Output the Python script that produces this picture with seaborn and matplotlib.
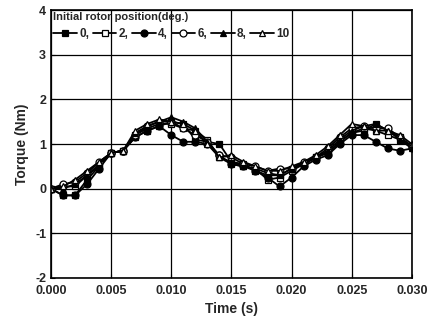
import numpy as np
import pandas as pd
import matplotlib
matplotlib.use("Agg")
import matplotlib.pyplot as plt
import seaborn as sns

# -----------------------------
# Data
# -----------------------------
time_ms = list(range(0, 31))  # 0 .. 30 ms, 1 ms steps

torque_0 = [0, -0.15, -0.15, 0.2, 0.5, 0.8, 0.85, 1.15, 1.3, 1.4, 1.5, 1.45, 1.1, 1.05, 1.0,
            0.6, 0.55, 0.4, 0.3, 0.3, 0.45, 0.55, 0.7, 0.8, 1.05, 1.25, 1.3, 1.45, 1.3, 1.15, 0.95]
torque_2 = [0, 0.05, 0.05, 0.3, 0.5, 0.8, 0.85, 1.2, 1.35, 1.45, 1.45, 1.35, 1.3, 1.1, 0.7,
            0.55, 0.5, 0.45, 0.2, 0.25, 0.4, 0.55, 0.7, 0.8, 1.05, 1.25, 1.35, 1.3, 1.2, 1.1, 0.95]
torque_4 = [0, -0.15, -0.15, 0.1, 0.45, 0.8, 0.85, 1.15, 1.3, 1.4, 1.2, 1.05, 1.05, 1.0, 0.75,
            0.55, 0.5, 0.4, 0.25, 0.05, 0.25, 0.5, 0.65, 0.75, 1.0, 1.2, 1.2, 1.05, 0.9, 0.85, 0.9]
torque_6 = [0, 0.1, 0.15, 0.35, 0.6, 0.8, 0.85, 1.2, 1.4, 1.5, 1.5, 1.35, 1.2, 1.05, 0.75,
            0.7, 0.55, 0.5, 0.4, 0.45, 0.45, 0.6, 0.7, 0.9, 1.15, 1.35, 1.4, 1.35, 1.35, 1.15, 0.95]
torque_8 = [0, 0.0, 0.1, 0.3, 0.55, 0.8, 0.85, 1.25, 1.4, 1.5, 1.6, 1.5, 1.35, 1.05, 0.7,
            0.6, 0.5, 0.45, 0.35, 0.3, 0.45, 0.55, 0.7, 0.85, 1.1, 1.3, 1.4, 1.45, 1.3, 1.1, 0.9]
torque_10 = [0, 0.05, 0.2, 0.4, 0.6, 0.8, 0.85, 1.3, 1.45, 1.55, 1.5, 1.45, 1.3, 1.0, 0.7,
             0.75, 0.6, 0.5, 0.4, 0.4, 0.5, 0.6, 0.75, 0.95, 1.2, 1.45, 1.4, 1.3, 1.3, 1.2, 1.0]

series_labels = ["0,", "2,", "4,", "6,", "8,", "10"]
series_values = [torque_0, torque_2, torque_4, torque_6, torque_8, torque_10]
series_markers = ["s", "s", "o", "o", "^", "^"]
series_filled = [True, False, True, False, True, False]

x_ticks = [0.000, 0.005, 0.010, 0.015, 0.020, 0.025, 0.030]
y_ticks = [-2, -1, 0, 1, 2, 3, 4]

rows = []
for lab, vals in zip(series_labels, series_values):
    for t, v in zip(time_ms, vals):
        rows.append({"time": t / 1000.0, "torque": v, "series": lab})
df = pd.DataFrame(rows)

# -----------------------------
# Plot
# -----------------------------
sns.set_style("ticks")
plt.rcParams["font.family"] = ["Liberation Sans", "DejaVu Sans"]
plt.rcParams["font.weight"] = "bold"

fig = plt.figure(figsize=(4.34, 3.24), dpi=100)
ax = fig.add_axes([0.1175, 0.142, 0.8315, 0.827])

for lab, mk, filled in zip(series_labels, series_markers, series_filled):
    sub = df[df["series"] == lab]
    sns.lineplot(
        data=sub, x="time", y="torque", ax=ax,
        color="black", linewidth=1.3, label=lab,
        marker=mk, markersize=5,
        markerfacecolor="black" if filled else "white",
        markeredgecolor="black", markeredgewidth=0.9,
    )

ax.set_xlim(0, 0.030)
ax.set_ylim(-2, 4)
ax.set_xticks(x_ticks)
ax.set_xticklabels([f"{v:.3f}" for v in x_ticks], fontsize=9, fontweight="bold")
ax.set_yticks(y_ticks)
ax.set_yticklabels([str(v) for v in y_ticks], fontsize=9, fontweight="bold")
ax.grid(True, color="black", linewidth=0.9)
ax.tick_params(direction="in", length=3, color="black")
ax.tick_params(axis="x", pad=5)
for sp in ax.spines.values():
    sp.set_color("black")
    sp.set_linewidth(1.2)

ax.set_xlabel("Time (s)", fontsize=10, fontweight="bold")
ax.set_ylabel("Torque (Nm)", fontsize=10, fontweight="bold", labelpad=4)

leg = ax.legend(
    title="Initial rotor position(deg.)", ncol=6, loc="upper left",
    frameon=False, fontsize=8.5, title_fontsize=8, handlelength=2.0,
    handletextpad=0.2, columnspacing=0.3, borderaxespad=0.0,
    borderpad=0.2,
)
leg._legend_box.align = "left"
plt.setp(leg.get_texts(), fontweight="bold")

fig.savefig("out.png", dpi=100)
